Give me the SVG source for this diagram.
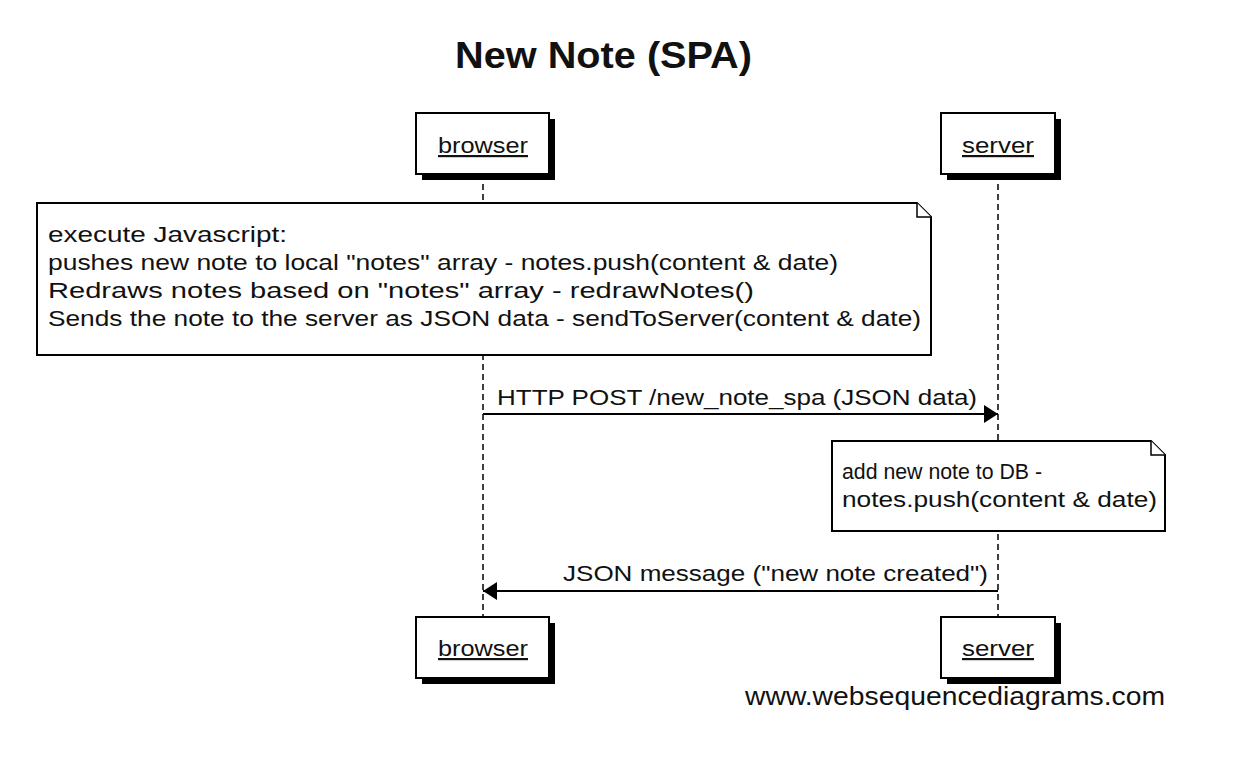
<svg xmlns="http://www.w3.org/2000/svg" width="1244" height="780" viewBox="0 0 1244 780">
<defs>
<style>
text{font-family:"Liberation Sans",Arial,sans-serif;fill:#111}
.t{font-size:22px}
.p{font-size:22px;text-decoration:underline}
.box{fill:#fff;stroke:#000;stroke-width:2}
.sh{fill:#000}
.life{stroke:#000;stroke-width:1.5;stroke-dasharray:6,4;fill:none}
.msg{stroke:#000;stroke-width:2;fill:none}
.note{fill:#fff;stroke:#000;stroke-width:2}
</style>
<marker id="ah" markerWidth="14" markerHeight="18" refX="14" refY="9" orient="auto" markerUnits="userSpaceOnUse">
<path d="M0,0 L14,9 L0,18 Z" fill="#000"/>
</marker>
</defs>
<rect width="1244" height="780" fill="#fff"/>
<text x="455" y="68" style="font-size:36px;font-weight:bold" textLength="297" lengthAdjust="spacingAndGlyphs">New Note (SPA)</text>
<g id="lifelines">
<line class="life" x1="483" y1="174" x2="483" y2="617"/>
<line class="life" x1="998" y1="174" x2="998" y2="617"/>
</g>
<g id="browser-top">
<rect class="sh" x="422" y="119" width="133" height="61"/>
<rect class="box" x="416" y="113" width="133" height="61"/>
<text class="p" x="438" y="153" textLength="90" lengthAdjust="spacingAndGlyphs">browser</text>
</g>
<g id="server-top">
<rect class="sh" x="947" y="119" width="114" height="61"/>
<rect class="box" x="941" y="113" width="114" height="61"/>
<text class="p" x="962" y="153" textLength="72" lengthAdjust="spacingAndGlyphs">server</text>
</g>
<g id="note1">
<path class="note" d="M37,203 L917,203 L931,217 L931,355 L37,355 Z"/>
<path d="M917,203 L917,217 L931,217" fill="#fff" stroke="#000" stroke-width="1.5"/>
<text class="t" x="48" y="242" textLength="239" lengthAdjust="spacingAndGlyphs">execute Javascript:</text>
<text class="t" x="48" y="270" textLength="790" lengthAdjust="spacingAndGlyphs">pushes new note to local "notes" array - notes.push(content &amp; date)</text>
<text class="t" x="48" y="298" textLength="706" lengthAdjust="spacingAndGlyphs">Redraws notes based on "notes" array - redrawNotes()</text>
<text class="t" x="48" y="326" textLength="873" lengthAdjust="spacingAndGlyphs">Sends the note to the server as JSON data - sendToServer(content &amp; date)</text>
</g>
<g id="connectors">
<line class="msg" x1="483" y1="414" x2="998" y2="414" marker-end="url(#ah)"/>
<text class="t" x="497" y="405" textLength="480" lengthAdjust="spacingAndGlyphs">HTTP POST /new_note_spa (JSON data)</text>
<line class="msg" x1="998" y1="591" x2="483" y2="591" marker-end="url(#ah)"/>
<text class="t" x="563" y="581" textLength="425" lengthAdjust="spacingAndGlyphs">JSON message ("new note created")</text>
</g>
<g id="note2">
<path class="note" d="M832,441 L1151,441 L1165,455 L1165,531 L832,531 Z"/>
<path d="M1151,441 L1151,455 L1165,455" fill="#fff" stroke="#000" stroke-width="1.5"/>
<text class="t" x="842" y="479" textLength="200" lengthAdjust="spacingAndGlyphs">add new note to DB -</text>
<text class="t" x="842" y="507" textLength="315" lengthAdjust="spacingAndGlyphs">notes.push(content &amp; date)</text>
</g>
<g id="browser-bottom">
<rect class="sh" x="422" y="623" width="133" height="61"/>
<rect class="box" x="416" y="617" width="133" height="61"/>
<text class="p" x="438" y="656" textLength="90" lengthAdjust="spacingAndGlyphs">browser</text>
</g>
<g id="server-bottom">
<rect class="sh" x="947" y="623" width="114" height="61"/>
<rect class="box" x="941" y="617" width="114" height="61"/>
<text class="p" x="962" y="656" textLength="72" lengthAdjust="spacingAndGlyphs">server</text>
</g>
<text x="745" y="705" style="font-size:25px" textLength="420" lengthAdjust="spacingAndGlyphs">www.websequencediagrams.com</text>
</svg>
